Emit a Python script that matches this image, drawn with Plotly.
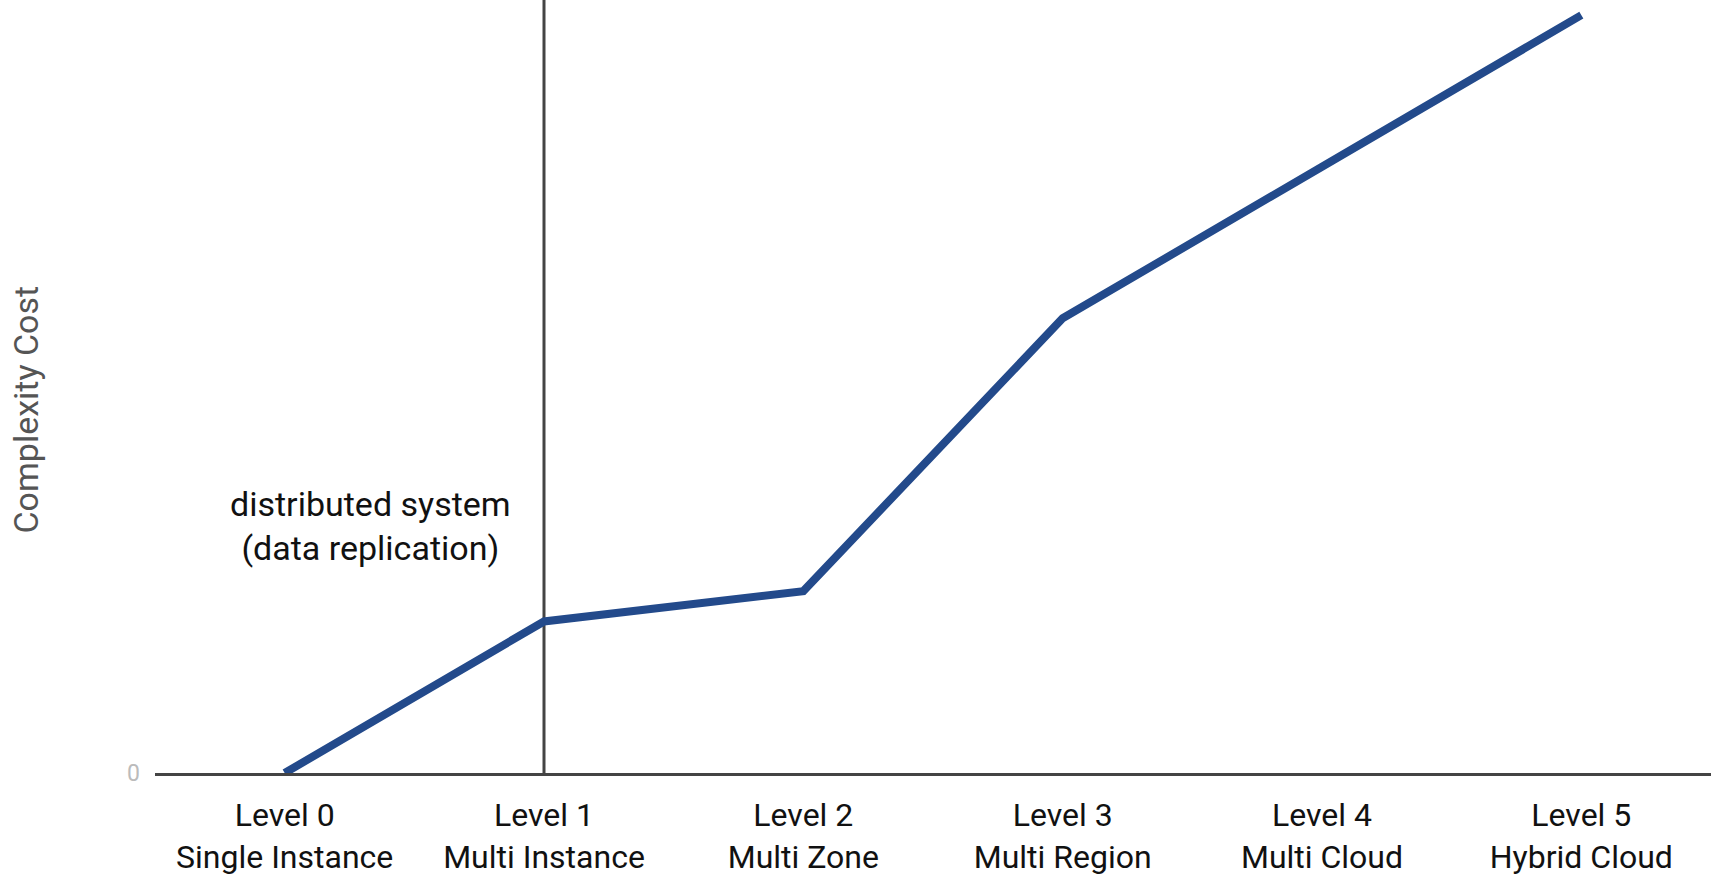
import plotly.graph_objects as go

levels = ["Level 0", "Level 1", "Level 2", "Level 3", "Level 4", "Level 5"]
names = ["Single Instance", "Multi Instance", "Multi Zone", "Multi Region", "Multi Cloud", "Hybrid Cloud"]
complexity = [0, 1, 1.2, 3, 4, 5]

tick_text = [f"{lv}<br>{nm}" for lv, nm in zip(levels, names)]

fig = go.Figure()
fig.add_trace(go.Scatter(
    x=levels, y=complexity, mode="lines",
    line=dict(color="#234a8b", width=8),
    hoverinfo="skip",
))

# boundary where the system becomes distributed
fig.add_shape(type="line", xref="x", yref="paper",
              x0=levels[1], x1=levels[1], y0=0, y1=1,
              line=dict(color="#444444", width=3), layer="below")

fig.add_annotation(text="distributed system<br>(data replication)",
                   xref="x", yref="y", x=0.33, y=1.63,
                   showarrow=False, font=dict(size=34, color="#111111", family="Roboto"),
                   align="center")

fig.add_annotation(text="Complexity Cost", xref="paper", yref="paper",
                   x=-0.083, y=0.47, xanchor="center", yanchor="middle",
                   textangle=-90, showarrow=False,
                   font=dict(size=34, color="#555555", family="Roboto"))

fig.update_layout(
    width=1711, height=877,
    margin=dict(l=155, r=0, t=0, b=104),
    paper_bgcolor="white", plot_bgcolor="white",
    showlegend=False,
    font=dict(family="Roboto"),
    xaxis=dict(
        tickmode="array", tickvals=levels, ticktext=tick_text,
        range=[-0.5, len(levels) - 0.5],
        tickfont=dict(size=32, color="#111111"),
        showgrid=False, zeroline=False,
        showline=True, linecolor="#444444", linewidth=3,
        ticks="", ticklabelstandoff=12,
    ),
    yaxis=dict(
        range=[0, 5.1], tickvals=[0], ticktext=["0"],
        tickfont=dict(size=23, color="#bbbbbb"),
        showgrid=False, zeroline=False, showline=False,
        ticks="", ticklabelstandoff=14,
    ),
)

fig.write_html("out.html")
